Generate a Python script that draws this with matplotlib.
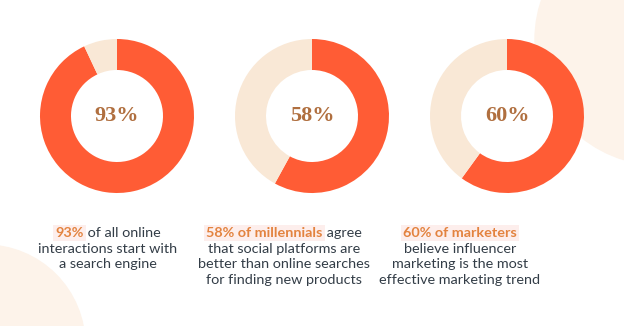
import matplotlib.pyplot as plt
from matplotlib.patches import Circle

# data
percents = [93, 58, 60]
labels = ['93%', '58%', '60%']
captions = [
    [[('93%', True), (' of all online', False)],
     [('interactions start with', False)],
     [('a search engine', False)]],
    [[('58% of millennials', True), (' agree', False)],
     [('that social platforms are', False)],
     [('better than online searches', False)],
     [('for finding new products', False)]],
    [[('60% of marketers', True)],
     [('believe influencer', False)],
     [('marketing is the most', False)],
     [('effective marketing trend', False)]],
]

ORANGE = '#ff5c35'
TRACK = '#f9e8d6'
PCT_COLOR = '#b06f3f'
HL_COLOR = '#e3833f'
HL_BG = '#fdeeec'
BODY = '#333d47'
BG_CIRCLE = '#fdf3ea'

W, H = 624, 326
fig = plt.figure(figsize=(6.24, 3.26), dpi=100)
ax = fig.add_axes([0, 0, 1, 1])

# background decoration circles
ax.add_patch(Circle((660, H - 40), 125, color=BG_CIRCLE, zorder=0))
ax.add_patch(Circle((-15, H - 345), 100, color=BG_CIRCLE, zorder=0))

centers = [117, 312, 507]
for cx, p, lab in zip(centers, percents, labels):
    ax.pie([p, 100 - p], colors=[ORANGE, TRACK], startangle=90, counterclock=False,
           radius=77, center=(cx, H - 116),
           wedgeprops=dict(width=31, linewidth=0))
    ax.text(cx, H - 116, lab, ha='center', va='center', fontsize=16,
            family='Liberation Serif', fontweight='bold', color=PCT_COLOR, zorder=5)

ax.set_xlim(0, W)
ax.set_ylim(0, H)
ax.set_aspect('auto')
ax.axis('off')

# captions with highlighted segments
text_centers = [108, 284, 460]
line_y = [233, 249, 264, 280]
renderer = fig.canvas.get_renderer()
for tx, lines in zip(text_centers, captions):
    for i, segs in enumerate(lines):
        y = H - line_y[i]
        objs = []
        x = 0
        for s, hl in segs:
            t = ax.text(x, y, s, ha='left', va='center', fontsize=10.4,
                        family='Lato', color=HL_COLOR if hl else BODY,
                        fontweight='bold' if hl else 'normal', zorder=5)
            if hl:
                t.set_bbox(dict(facecolor=HL_BG, edgecolor='none', pad=1.5))
            bb = t.get_window_extent(renderer)
            objs.append((t, bb.width))
            x += bb.width
        total = x
        start = tx - total / 2
        for t, w in objs:
            t.set_x(start)
            start += w

fig.savefig('out.png', dpi=100, facecolor='white')
